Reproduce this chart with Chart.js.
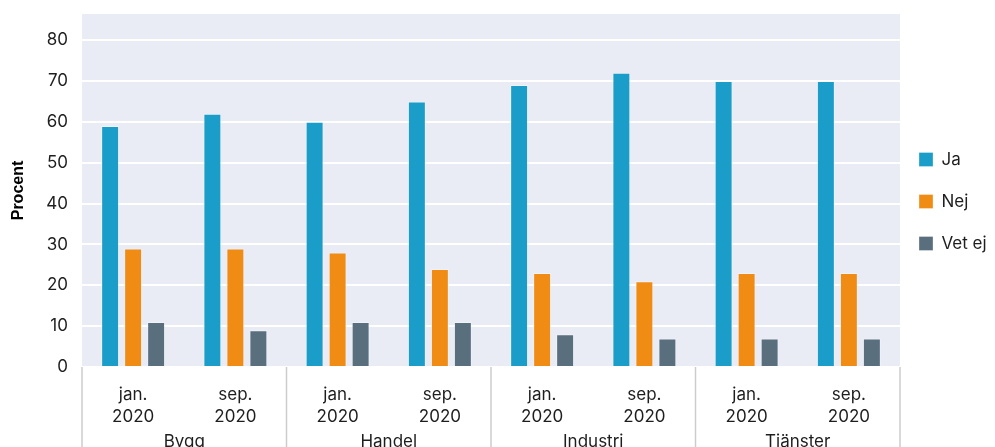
<!DOCTYPE html>
<html>
<head>
<meta charset="utf-8">
<title>Procent per bransch</title>
<script src="https://cdn.jsdelivr.net/npm/chart.js@4.4.1/dist/chart.umd.min.js"></script>
<style>
  html, body { margin: 0; padding: 0; background: #fff; overflow: hidden; }
  #wrap { width: 995px; height: 470px; }
</style>
</head>
<body>
<div id="wrap"><canvas id="chart" width="995" height="470"></canvas></div>
<script>
// data
const periods = [['jan.', '2020'], ['sep.', '2020'], ['jan.', '2020'], ['sep.', '2020'],
                 ['jan.', '2020'], ['sep.', '2020'], ['jan.', '2020'], ['sep.', '2020']];
const groups = ['Bygg', 'Handel', 'Industri', 'Tjänster'];
const ja    = [59, 62, 60, 65, 69, 72, 70, 70];
const nej   = [29, 29, 28, 24, 23, 21, 23, 23];
const vetEj = [11, 9, 11, 11, 8, 7, 7, 7];
const yTicks = [0, 10, 20, 30, 40, 50, 60, 70, 80];

const TEXT = '#1e1e1e';
const tickFont = { family: 'Inter, "Noto Sans", sans-serif', size: 17 };

// grey plot background
const plotBg = {
    id: 'plotBg',
    beforeDraw(chart) {
        const a = chart.chartArea, ctx = chart.ctx;
        ctx.save();
        ctx.fillStyle = '#e9ecf4';
        ctx.fillRect(a.left, a.top, a.right - a.left, a.bottom - a.top);
        ctx.restore();
    }
};

// vertical separators between the branch groups, below the plot
const groupLines = {
    id: 'groupLines',
    afterDraw(chart) {
        const x = chart.scales.x, ctx = chart.ctx;
        const step = x.width / periods.length;
        ctx.save();
        ctx.strokeStyle = '#cccccc';
        ctx.lineWidth = 1.5;
        for (let i = 0; i <= periods.length; i += 2) {
            const px = x.left + i * step;
            ctx.beginPath();
            ctx.moveTo(px, chart.chartArea.bottom);
            ctx.lineTo(px, chart.height);
            ctx.stroke();
        }
        ctx.restore();
    }
};

// nudge the legend a bit left and down
const legendShift = {
    id: 'legendShift',
    afterLayout(chart) {
        const l = chart.legend;
        l.left -= 6; l.right -= 6;
        l.top += 11; l.bottom += 11;
    }
};

const bar = (label, data, color) => ({
    label, data,
    backgroundColor: color,
    borderColor: 'rgba(255,255,255,0.3)',
    borderWidth: 1,
    categoryPercentage: 0.675,
    barPercentage: 0.78
});

new Chart(document.getElementById('chart'), {
    type: 'bar',
    data: {
        labels: periods,
        datasets: [
            bar('Ja', ja, '#1a9dc8'),
            bar('Nej', nej, '#f08c14'),
            bar('Vet ej', vetEj, '#5a6f7e')
        ]
    },
    options: {
        responsive: false,
        animation: false,
        devicePixelRatio: 1,
        layout: { padding: { top: 14, left: 0, right: 0, bottom: 0 } },
        plugins: {
            tooltip: { enabled: false },
            legend: {
                position: 'right',
                align: 'center',
                fullSize: false,
                maxWidth: 95,
                labels: {
                    boxWidth: 14,
                    boxHeight: 14,
                    padding: 25,
                    color: TEXT,
                    font: tickFont
                }
            }
        },
        scales: {
            x: {
                type: 'category',
                weight: 0,
                grid: { display: false },
                border: { display: false },
                ticks: { color: TEXT, font: { ...tickFont, lineHeight: 1.3 }, padding: 9, maxRotation: 0, autoSkip: false },
                afterFit(axis) { axis.height = 55; axis.paddingLeft = 0; axis.paddingRight = 0; }
            },
            x2: {
                type: 'category',
                position: 'bottom',
                weight: 1,
                labels: groups,
                offset: true,
                grid: { display: false },
                border: { display: false },
                ticks: { color: TEXT, font: { ...tickFont, lineHeight: 1.3 }, padding: 1, maxRotation: 0, autoSkip: false },
                afterFit(axis) { axis.height = 48; axis.paddingLeft = 0; axis.paddingRight = 0; }
            },
            y: {
                min: 0,
                max: 86.4,
                grid: { color: '#ffffff', lineWidth: 2, drawTicks: false },
                border: { display: false },
                ticks: { stepSize: 10, color: TEXT, font: tickFont, padding: 14 },
                afterBuildTicks(axis) {
                    axis.ticks = yTicks.map(v => ({ value: v }));
                },
                title: {
                    display: true,
                    text: 'Procent',
                    color: '#000',
                    font: { family: '"Liberation Sans", Arial, sans-serif', size: 16, weight: 'bold' },
                    padding: { top: 9, bottom: 0 }
                },
                afterFit(axis) { axis.width = 82; axis.paddingTop = 0; axis.paddingBottom = 0; }
            }
        }
    },
    plugins: [plotBg, groupLines, legendShift]
});
</script>
</body>
</html>
